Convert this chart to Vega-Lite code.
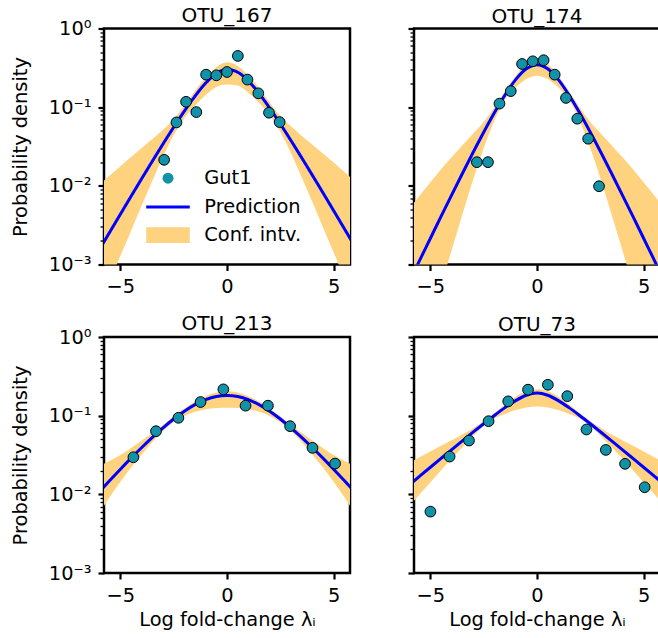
{
  "$schema": "https://vega.github.io/schema/vega-lite/v6.json",
  "padding": {"left": 9, "top": 4.5, "right": 0, "bottom": 0},
  "background": "white",
  "config": {
    "font": "DejaVu Sans",
    "view": {"stroke": "black", "strokeWidth": 2.5},
    "axis": {"grid": false, "domain": false, "ticks": true, "tickColor": "black", "tickWidth": 2.2, "tickSize": 6, "labelFont": "DejaVu Sans", "labelFontSize": 19.4, "labelColor": "black", "labelPadding": 7, "titleFont": "DejaVu Sans", "titleFontSize": 19.4, "titleFontWeight": "normal", "titleColor": "black"},
    "title": {"font": "DejaVu Sans", "fontSize": 20, "fontWeight": "normal", "color": "black", "frame": "group"},
    "legend": {"padding": 0, "title": null, "labelFont": "DejaVu Sans", "labelFontSize": 19.4, "labelColor": "black", "symbolOffset": 0, "orient": "none"}
  },
  "datasets": {
    "curves": [
      {"otu": "OTU_167", "x": -6, "pred": 0.001524, "lo": 0.0002904, "hi": 0.0103},
      {"otu": "OTU_167", "x": -5.5, "pred": 0.002582, "lo": 0.0006053, "hi": 0.01355},
      {"otu": "OTU_167", "x": -5, "pred": 0.004365, "lo": 0.001288, "hi": 0.01778},
      {"otu": "OTU_167", "x": -4.5, "pred": 0.007362, "lo": 0.002673, "hi": 0.02328},
      {"otu": "OTU_167", "x": -4, "pred": 0.01236, "lo": 0.005649, "hi": 0.03034},
      {"otu": "OTU_167", "x": -3.5, "pred": 0.02061, "lo": 0.01159, "hi": 0.03927},
      {"otu": "OTU_167", "x": -3, "pred": 0.03412, "lo": 0.0236, "hi": 0.05164},
      {"otu": "OTU_167", "x": -2.5, "pred": 0.05572, "lo": 0.04426, "hi": 0.07014},
      {"otu": "OTU_167", "x": -2, "pred": 0.08913, "lo": 0.07244, "hi": 0.1047},
      {"otu": "OTU_167", "x": -1.5, "pred": 0.138, "lo": 0.1047, "hi": 0.1622},
      {"otu": "OTU_167", "x": -1, "pred": 0.2023, "lo": 0.1432, "hi": 0.2377},
      {"otu": "OTU_167", "x": -0.5, "pred": 0.2679, "lo": 0.1811, "hi": 0.3221},
      {"otu": "OTU_167", "x": 0, "pred": 0.3017, "lo": 0.1948, "hi": 0.3711},
      {"otu": "OTU_167", "x": 0.5, "pred": 0.2782, "lo": 0.1881, "hi": 0.3345},
      {"otu": "OTU_167", "x": 1, "pred": 0.2159, "lo": 0.1528, "hi": 0.2536},
      {"otu": "OTU_167", "x": 1.5, "pred": 0.1499, "lo": 0.1137, "hi": 0.1761},
      {"otu": "OTU_167", "x": 2, "pred": 0.09761, "lo": 0.07934, "hi": 0.1147},
      {"otu": "OTU_167", "x": 2.5, "pred": 0.06129, "lo": 0.04869, "hi": 0.07716},
      {"otu": "OTU_167", "x": 3, "pred": 0.03766, "lo": 0.02606, "hi": 0.057},
      {"otu": "OTU_167", "x": 3.5, "pred": 0.02282, "lo": 0.01283, "hi": 0.04347},
      {"otu": "OTU_167", "x": 4, "pred": 0.0137, "lo": 0.00626, "hi": 0.03362},
      {"otu": "OTU_167", "x": 4.5, "pred": 0.008168, "lo": 0.002965, "hi": 0.02582},
      {"otu": "OTU_167", "x": 5, "pred": 0.004849, "lo": 0.001431, "hi": 0.01975},
      {"otu": "OTU_167", "x": 5.5, "pred": 0.002868, "lo": 0.0006723, "hi": 0.01505},
      {"otu": "OTU_167", "x": 6, "pred": 0.001693, "lo": 0.0003226, "hi": 0.01144},

      {"otu": "OTU_174", "x": -6, "pred": 0.0005957, "lo": 0.00002661, "hi": 0.00507},
      {"otu": "OTU_174", "x": -5.5, "pred": 0.001138, "lo": 0.00007178, "hi": 0.007516},
      {"otu": "OTU_174", "x": -5, "pred": 0.002158, "lo": 0.0001923, "hi": 0.01107},
      {"otu": "OTU_174", "x": -4.5, "pred": 0.004093, "lo": 0.0005395, "hi": 0.01629},
      {"otu": "OTU_174", "x": -4, "pred": 0.007691, "lo": 0.001535, "hi": 0.02323},
      {"otu": "OTU_174", "x": -3.5, "pred": 0.01436, "lo": 0.004335, "hi": 0.03289},
      {"otu": "OTU_174", "x": -3, "pred": 0.02649, "lo": 0.01183, "hi": 0.04603},
      {"otu": "OTU_174", "x": -2.5, "pred": 0.04797, "lo": 0.03027, "hi": 0.06471},
      {"otu": "OTU_174", "x": -2, "pred": 0.08472, "lo": 0.0673, "hi": 0.09954},
      {"otu": "OTU_174", "x": -1.5, "pred": 0.1429, "lo": 0.1245, "hi": 0.1603},
      {"otu": "OTU_174", "x": -1, "pred": 0.2239, "lo": 0.1778, "hi": 0.2512},
      {"otu": "OTU_174", "x": -0.5, "pred": 0.3076, "lo": 0.228, "hi": 0.3532},
      {"otu": "OTU_174", "x": 0, "pred": 0.3467, "lo": 0.2512, "hi": 0.4074},
      {"otu": "OTU_174", "x": 0.5, "pred": 0.3076, "lo": 0.228, "hi": 0.3532},
      {"otu": "OTU_174", "x": 1, "pred": 0.2239, "lo": 0.1778, "hi": 0.2512},
      {"otu": "OTU_174", "x": 1.5, "pred": 0.1429, "lo": 0.1245, "hi": 0.1603},
      {"otu": "OTU_174", "x": 2, "pred": 0.08472, "lo": 0.0673, "hi": 0.09954},
      {"otu": "OTU_174", "x": 2.5, "pred": 0.04797, "lo": 0.03027, "hi": 0.06471},
      {"otu": "OTU_174", "x": 3, "pred": 0.02649, "lo": 0.01183, "hi": 0.04603},
      {"otu": "OTU_174", "x": 3.5, "pred": 0.01436, "lo": 0.004335, "hi": 0.03289},
      {"otu": "OTU_174", "x": 4, "pred": 0.007691, "lo": 0.001535, "hi": 0.02323},
      {"otu": "OTU_174", "x": 4.5, "pred": 0.004093, "lo": 0.0005395, "hi": 0.01629},
      {"otu": "OTU_174", "x": 5, "pred": 0.002158, "lo": 0.0001923, "hi": 0.01107},
      {"otu": "OTU_174", "x": 5.5, "pred": 0.001138, "lo": 0.00007178, "hi": 0.007516},
      {"otu": "OTU_174", "x": 6, "pred": 0.0005957, "lo": 0.00002661, "hi": 0.00507},

      {"otu": "OTU_213", "x": -6, "pred": 0.01071, "lo": 0.005749, "hi": 0.02289},
      {"otu": "OTU_213", "x": -5.5, "pred": 0.01501, "lo": 0.009252, "hi": 0.02669},
      {"otu": "OTU_213", "x": -5, "pred": 0.02089, "lo": 0.01445, "hi": 0.03162},
      {"otu": "OTU_213", "x": -4.5, "pred": 0.02884, "lo": 0.02187, "hi": 0.0389},
      {"otu": "OTU_213", "x": -4, "pred": 0.03936, "lo": 0.03199, "hi": 0.04842},
      {"otu": "OTU_213", "x": -3.5, "pred": 0.05299, "lo": 0.04616, "hi": 0.06084},
      {"otu": "OTU_213", "x": -3, "pred": 0.07009, "lo": 0.06393, "hi": 0.07686},
      {"otu": "OTU_213", "x": -2.5, "pred": 0.09066, "lo": 0.08268, "hi": 0.09826},
      {"otu": "OTU_213", "x": -2, "pred": 0.1139, "lo": 0.09922, "hi": 0.1235},
      {"otu": "OTU_213", "x": -1.5, "pred": 0.138, "lo": 0.1121, "hi": 0.1513},
      {"otu": "OTU_213", "x": -1, "pred": 0.1597, "lo": 0.1211, "hi": 0.1771},
      {"otu": "OTU_213", "x": -0.5, "pred": 0.1751, "lo": 0.1254, "hi": 0.1974},
      {"otu": "OTU_213", "x": 0, "pred": 0.1807, "lo": 0.1265, "hi": 0.2051},
      {"otu": "OTU_213", "x": 0.5, "pred": 0.1751, "lo": 0.1254, "hi": 0.1974},
      {"otu": "OTU_213", "x": 1, "pred": 0.1597, "lo": 0.1211, "hi": 0.1771},
      {"otu": "OTU_213", "x": 1.5, "pred": 0.138, "lo": 0.1121, "hi": 0.1513},
      {"otu": "OTU_213", "x": 2, "pred": 0.1139, "lo": 0.09922, "hi": 0.1235},
      {"otu": "OTU_213", "x": 2.5, "pred": 0.09066, "lo": 0.08268, "hi": 0.09826},
      {"otu": "OTU_213", "x": 3, "pred": 0.07009, "lo": 0.06393, "hi": 0.07686},
      {"otu": "OTU_213", "x": 3.5, "pred": 0.05299, "lo": 0.04616, "hi": 0.06084},
      {"otu": "OTU_213", "x": 4, "pred": 0.03936, "lo": 0.03199, "hi": 0.04842},
      {"otu": "OTU_213", "x": 4.5, "pred": 0.02884, "lo": 0.02187, "hi": 0.0389},
      {"otu": "OTU_213", "x": 5, "pred": 0.02089, "lo": 0.01445, "hi": 0.03162},
      {"otu": "OTU_213", "x": 5.5, "pred": 0.01501, "lo": 0.009252, "hi": 0.02669},
      {"otu": "OTU_213", "x": 6, "pred": 0.01071, "lo": 0.005749, "hi": 0.02289},

      {"otu": "OTU_73", "x": -6, "pred": 0.01312, "lo": 0.007047, "hi": 0.025},
      {"otu": "OTU_73", "x": -5.5, "pred": 0.01703, "lo": 0.01003, "hi": 0.0296},
      {"otu": "OTU_73", "x": -5, "pred": 0.02209, "lo": 0.01427, "hi": 0.03501},
      {"otu": "OTU_73", "x": -4.5, "pred": 0.02862, "lo": 0.02026, "hi": 0.04137},
      {"otu": "OTU_73", "x": -4, "pred": 0.03705, "lo": 0.02875, "hi": 0.04883},
      {"otu": "OTU_73", "x": -3.5, "pred": 0.04784, "lo": 0.03981, "hi": 0.05752},
      {"otu": "OTU_73", "x": -3, "pred": 0.06162, "lo": 0.05491, "hi": 0.06913},
      {"otu": "OTU_73", "x": -2.5, "pred": 0.07901, "lo": 0.07374, "hi": 0.08466},
      {"otu": "OTU_73", "x": -2, "pred": 0.1006, "lo": 0.09178, "hi": 0.1078},
      {"otu": "OTU_73", "x": -1.5, "pred": 0.1266, "lo": 0.1053, "hi": 0.1388},
      {"otu": "OTU_73", "x": -1, "pred": 0.1555, "lo": 0.1179, "hi": 0.1745},
      {"otu": "OTU_73", "x": -0.5, "pred": 0.1819, "lo": 0.1273, "hi": 0.2041},
      {"otu": "OTU_73", "x": 0, "pred": 0.1936, "lo": 0.1309, "hi": 0.2173},
      {"otu": "OTU_73", "x": 0.5, "pred": 0.1819, "lo": 0.1273, "hi": 0.2041},
      {"otu": "OTU_73", "x": 1, "pred": 0.1555, "lo": 0.1179, "hi": 0.1745},
      {"otu": "OTU_73", "x": 1.5, "pred": 0.1266, "lo": 0.1053, "hi": 0.1388},
      {"otu": "OTU_73", "x": 2, "pred": 0.1006, "lo": 0.09178, "hi": 0.1078},
      {"otu": "OTU_73", "x": 2.5, "pred": 0.07901, "lo": 0.07374, "hi": 0.08466},
      {"otu": "OTU_73", "x": 3, "pred": 0.06162, "lo": 0.05491, "hi": 0.06913},
      {"otu": "OTU_73", "x": 3.5, "pred": 0.04784, "lo": 0.03981, "hi": 0.05752},
      {"otu": "OTU_73", "x": 4, "pred": 0.03705, "lo": 0.02875, "hi": 0.04883},
      {"otu": "OTU_73", "x": 4.5, "pred": 0.02862, "lo": 0.02026, "hi": 0.04137},
      {"otu": "OTU_73", "x": 5, "pred": 0.02209, "lo": 0.01427, "hi": 0.03501},
      {"otu": "OTU_73", "x": 5.5, "pred": 0.01703, "lo": 0.01003, "hi": 0.0296},
      {"otu": "OTU_73", "x": 6, "pred": 0.01312, "lo": 0.007047, "hi": 0.025}
    ],
    "points": [
      {"otu": "OTU_167", "x": -2.95, "y": 0.0214},
      {"otu": "OTU_167", "x": -2.37, "y": 0.064},
      {"otu": "OTU_167", "x": -1.92, "y": 0.117},
      {"otu": "OTU_167", "x": -1.44, "y": 0.0866},
      {"otu": "OTU_167", "x": -0.98, "y": 0.259},
      {"otu": "OTU_167", "x": -0.5, "y": 0.254},
      {"otu": "OTU_167", "x": 0, "y": 0.28},
      {"otu": "OTU_167", "x": 0.51, "y": 0.448},
      {"otu": "OTU_167", "x": 0.96, "y": 0.224},
      {"otu": "OTU_167", "x": 1.47, "y": 0.15},
      {"otu": "OTU_167", "x": 1.97, "y": 0.085},
      {"otu": "OTU_167", "x": 2.47, "y": 0.0646},
      {"otu": "OTU_174", "x": -2.82, "y": 0.02},
      {"otu": "OTU_174", "x": -2.3, "y": 0.02},
      {"otu": "OTU_174", "x": -1.76, "y": 0.111},
      {"otu": "OTU_174", "x": -1.23, "y": 0.16},
      {"otu": "OTU_174", "x": -0.7, "y": 0.354},
      {"otu": "OTU_174", "x": -0.2, "y": 0.383},
      {"otu": "OTU_174", "x": 0.31, "y": 0.395},
      {"otu": "OTU_174", "x": 0.83, "y": 0.259},
      {"otu": "OTU_174", "x": 1.36, "y": 0.131},
      {"otu": "OTU_174", "x": 1.89, "y": 0.0713},
      {"otu": "OTU_174", "x": 2.4, "y": 0.0397},
      {"otu": "OTU_174", "x": 2.91, "y": 0.00989},
      {"otu": "OTU_213", "x": -4.39, "y": 0.0296},
      {"otu": "OTU_213", "x": -3.33, "y": 0.0635},
      {"otu": "OTU_213", "x": -2.28, "y": 0.094},
      {"otu": "OTU_213", "x": -1.24, "y": 0.149},
      {"otu": "OTU_213", "x": -0.17, "y": 0.216},
      {"otu": "OTU_213", "x": 0.87, "y": 0.134},
      {"otu": "OTU_213", "x": 1.92, "y": 0.134},
      {"otu": "OTU_213", "x": 2.96, "y": 0.0735},
      {"otu": "OTU_213", "x": 4.01, "y": 0.039},
      {"otu": "OTU_213", "x": 5.07, "y": 0.0246},
      {"otu": "OTU_73", "x": -5.0, "y": 0.00603},
      {"otu": "OTU_73", "x": -4.1, "y": 0.0302},
      {"otu": "OTU_73", "x": -3.19, "y": 0.0483},
      {"otu": "OTU_73", "x": -2.27, "y": 0.0851},
      {"otu": "OTU_73", "x": -1.35, "y": 0.152},
      {"otu": "OTU_73", "x": -0.42, "y": 0.214},
      {"otu": "OTU_73", "x": 0.51, "y": 0.247},
      {"otu": "OTU_73", "x": 1.42, "y": 0.177},
      {"otu": "OTU_73", "x": 2.32, "y": 0.0667},
      {"otu": "OTU_73", "x": 3.23, "y": 0.0367},
      {"otu": "OTU_73", "x": 4.13, "y": 0.0244},
      {"otu": "OTU_73", "x": 5.05, "y": 0.0123}
    ]
  },
  "resolve": {"scale": {"color": "independent", "shape": "independent", "strokeDash": "independent"}, "legend": {"color": "independent", "shape": "independent", "strokeDash": "independent"}},
  "spacing": 15.5,
  "vconcat": [
    {
      "spacing": 53,
      "resolve": {"scale": {"color": "independent", "shape": "independent", "strokeDash": "independent"}, "legend": {"color": "independent", "shape": "independent", "strokeDash": "independent"}},
      "hconcat": [
        {
          "title": {"text": "OTU_167", "offset": -7.4},
          "width": 246, "height": 236,
          "resolve": {"axis": {"y": "independent"}},
          "layer": [
            {
              "data": {"name": "curves"},
              "transform": [{"filter": "datum.otu === 'OTU_167'"}],
              "mark": {"type": "area", "clip": true, "interpolate": "monotone", "opacity": 1},
              "encoding": {
                "x": {"field": "x", "type": "quantitative", "scale": {"domain": [-5.77, 5.77], "nice": false, "zero": false}, "axis": {"values": [-5, 0, 5], "title": null}},
                "y": {"field": "lo", "type": "quantitative", "scale": {"type": "log", "domain": [0.001, 1], "nice": false}, "axis": {"values": [0.001, 0.01, 0.1, 1], "labelExpr": "datum.value > 0.5 ? '10⁰' : datum.value > 0.05 ? '10⁻¹' : datum.value > 0.005 ? '10⁻²' : '10⁻³'", "title": "Probability density", "titlePadding": 18}},
                "y2": {"field": "hi"},
                "color": {
                  "datum": "Conf. intv.",
                  "scale": {"domain": ["Conf. intv."], "range": ["#ffd280"]},
                  "legend": {"orient": "none", "legendX": 42, "legendY": 184.7, "symbolType": "M-1,-0.36H1V0.36H-1Z", "symbolSize": 1900, "symbolStrokeWidth": 0, "labelOffset": 14.3}
                }
              }
            },
            {
              "data": {"name": "curves"},
              "transform": [{"filter": "datum.otu === 'OTU_167'"}],
              "mark": {"type": "line", "clip": true, "interpolate": "monotone", "strokeWidth": 3, "color": "#0000ff"},
              "encoding": {
                "x": {"field": "x", "type": "quantitative"},
                "y": {"field": "pred", "type": "quantitative", "axis": {"values": [0.002,0.003,0.004,0.005,0.006,0.007,0.008,0.009,0.02,0.03,0.04,0.05,0.06,0.07,0.08,0.09,0.2,0.3,0.4,0.5,0.6,0.7,0.8,0.9], "labels": false, "title": null, "tickSize": 4, "tickWidth": 1.3, "orient": "left"}},
                "strokeDash": {
                  "datum": "Prediction",
                  "scale": {"domain": ["Prediction"], "range": [[1, 0]]},
                  "legend": {"orient": "none", "legendX": 40.5, "legendY": 154.9, "symbolType": "stroke", "symbolSize": 1900, "symbolStrokeWidth": 3, "symbolStrokeColor": "#0000ff", "labelOffset": 12.8}
                }
              }
            },
            {
              "data": {"name": "points"},
              "transform": [{"filter": "datum.otu === 'OTU_167'"}],
              "mark": {"type": "point", "filled": true, "size": 115, "fill": "#1192a8", "stroke": "black", "strokeWidth": 1, "opacity": 1, "clip": true},
              "encoding": {
                "x": {"field": "x", "type": "quantitative"},
                "y": {"field": "y", "type": "quantitative", "axis": null},
                "shape": {
                  "datum": "Gut1",
                  "scale": {"domain": ["Gut1"], "range": ["circle"]},
                  "legend": {"orient": "none", "legendX": 54.3, "legendY": 140, "symbolType": "circle", "symbolSize": 120, "symbolStrokeWidth": 1, "symbolFillColor": "#1192a8", "symbolStrokeColor": "black", "labelOffset": 26.6}
                }
              }
            }
          ]
        },
        {
          "title": {"text": "OTU_174", "offset": 0.6},
          "width": 246, "height": 236,
          "resolve": {"axis": {"y": "independent"}},
          "layer": [
            {
              "data": {"name": "curves"},
              "transform": [{"filter": "datum.otu === 'OTU_174'"}],
              "mark": {"type": "area", "clip": true, "interpolate": "monotone", "opacity": 1, "color": "#ffd280"},
              "encoding": {
                "x": {"field": "x", "type": "quantitative", "scale": {"domain": [-5.77, 5.77], "nice": false, "zero": false}, "axis": {"values": [-5, 0, 5], "title": null}},
                "y": {"field": "lo", "type": "quantitative", "scale": {"type": "log", "domain": [0.001, 1], "nice": false}, "axis": {"values": [0.001, 0.01, 0.1, 1], "labels": false, "title": null}},
                "y2": {"field": "hi"}
              }
            },
            {
              "data": {"name": "curves"},
              "transform": [{"filter": "datum.otu === 'OTU_174'"}],
              "mark": {"type": "line", "clip": true, "interpolate": "monotone", "strokeWidth": 3, "color": "#0000ff"},
              "encoding": {
                "x": {"field": "x", "type": "quantitative"},
                "y": {"field": "pred", "type": "quantitative", "axis": {"values": [0.002,0.003,0.004,0.005,0.006,0.007,0.008,0.009,0.02,0.03,0.04,0.05,0.06,0.07,0.08,0.09,0.2,0.3,0.4,0.5,0.6,0.7,0.8,0.9], "labels": false, "title": null, "tickSize": 4, "tickWidth": 1.3, "orient": "left"}}
              }
            },
            {
              "data": {"name": "points"},
              "transform": [{"filter": "datum.otu === 'OTU_174'"}],
              "mark": {"type": "point", "shape": "circle", "filled": true, "size": 115, "fill": "#1192a8", "stroke": "black", "strokeWidth": 1, "opacity": 1, "clip": true},
              "encoding": {
                "x": {"field": "x", "type": "quantitative"},
                "y": {"field": "y", "type": "quantitative", "axis": null}
              }
            }
          ]
        }
      ]
    },
    {
      "spacing": 53,
      "hconcat": [
        {
          "title": {"text": "OTU_213", "offset": -7.4},
          "width": 246, "height": 236,
          "resolve": {"axis": {"y": "independent"}},
          "layer": [
            {
              "data": {"name": "curves"},
              "transform": [{"filter": "datum.otu === 'OTU_213'"}],
              "mark": {"type": "area", "clip": true, "interpolate": "monotone", "opacity": 1, "color": "#ffd280"},
              "encoding": {
                "x": {"field": "x", "type": "quantitative", "scale": {"domain": [-5.77, 5.77], "nice": false, "zero": false}, "axis": {"values": [-5, 0, 5], "title": "Log fold-change λᵢ", "titlePadding": 6}},
                "y": {"field": "lo", "type": "quantitative", "scale": {"type": "log", "domain": [0.001, 1], "nice": false}, "axis": {"values": [0.001, 0.01, 0.1, 1], "labelExpr": "datum.value > 0.5 ? '10⁰' : datum.value > 0.05 ? '10⁻¹' : datum.value > 0.005 ? '10⁻²' : '10⁻³'", "title": "Probability density", "titlePadding": 18}},
                "y2": {"field": "hi"}
              }
            },
            {
              "data": {"name": "curves"},
              "transform": [{"filter": "datum.otu === 'OTU_213'"}],
              "mark": {"type": "line", "clip": true, "interpolate": "monotone", "strokeWidth": 3, "color": "#0000ff"},
              "encoding": {
                "x": {"field": "x", "type": "quantitative"},
                "y": {"field": "pred", "type": "quantitative", "axis": {"values": [0.002,0.003,0.004,0.005,0.006,0.007,0.008,0.009,0.02,0.03,0.04,0.05,0.06,0.07,0.08,0.09,0.2,0.3,0.4,0.5,0.6,0.7,0.8,0.9], "labels": false, "title": null, "tickSize": 4, "tickWidth": 1.3, "orient": "left"}}
              }
            },
            {
              "data": {"name": "points"},
              "transform": [{"filter": "datum.otu === 'OTU_213'"}],
              "mark": {"type": "point", "shape": "circle", "filled": true, "size": 115, "fill": "#1192a8", "stroke": "black", "strokeWidth": 1, "opacity": 1, "clip": true},
              "encoding": {
                "x": {"field": "x", "type": "quantitative"},
                "y": {"field": "y", "type": "quantitative", "axis": null}
              }
            }
          ]
        },
        {
          "title": {"text": "OTU_73", "offset": 0.6},
          "width": 246, "height": 236,
          "resolve": {"axis": {"y": "independent"}},
          "layer": [
            {
              "data": {"name": "curves"},
              "transform": [{"filter": "datum.otu === 'OTU_73'"}],
              "mark": {"type": "area", "clip": true, "interpolate": "monotone", "opacity": 1, "color": "#ffd280"},
              "encoding": {
                "x": {"field": "x", "type": "quantitative", "scale": {"domain": [-5.77, 5.77], "nice": false, "zero": false}, "axis": {"values": [-5, 0, 5], "title": "Log fold-change λᵢ", "titlePadding": 6}},
                "y": {"field": "lo", "type": "quantitative", "scale": {"type": "log", "domain": [0.001, 1], "nice": false}, "axis": {"values": [0.001, 0.01, 0.1, 1], "labels": false, "title": null}},
                "y2": {"field": "hi"}
              }
            },
            {
              "data": {"name": "curves"},
              "transform": [{"filter": "datum.otu === 'OTU_73'"}],
              "mark": {"type": "line", "clip": true, "interpolate": "monotone", "strokeWidth": 3, "color": "#0000ff"},
              "encoding": {
                "x": {"field": "x", "type": "quantitative"},
                "y": {"field": "pred", "type": "quantitative", "axis": {"values": [0.002,0.003,0.004,0.005,0.006,0.007,0.008,0.009,0.02,0.03,0.04,0.05,0.06,0.07,0.08,0.09,0.2,0.3,0.4,0.5,0.6,0.7,0.8,0.9], "labels": false, "title": null, "tickSize": 4, "tickWidth": 1.3, "orient": "left"}}
              }
            },
            {
              "data": {"name": "points"},
              "transform": [{"filter": "datum.otu === 'OTU_73'"}],
              "mark": {"type": "point", "shape": "circle", "filled": true, "size": 115, "fill": "#1192a8", "stroke": "black", "strokeWidth": 1, "opacity": 1, "clip": true},
              "encoding": {
                "x": {"field": "x", "type": "quantitative"},
                "y": {"field": "y", "type": "quantitative", "axis": null}
              }
            }
          ]
        }
      ]
    }
  ]
}
